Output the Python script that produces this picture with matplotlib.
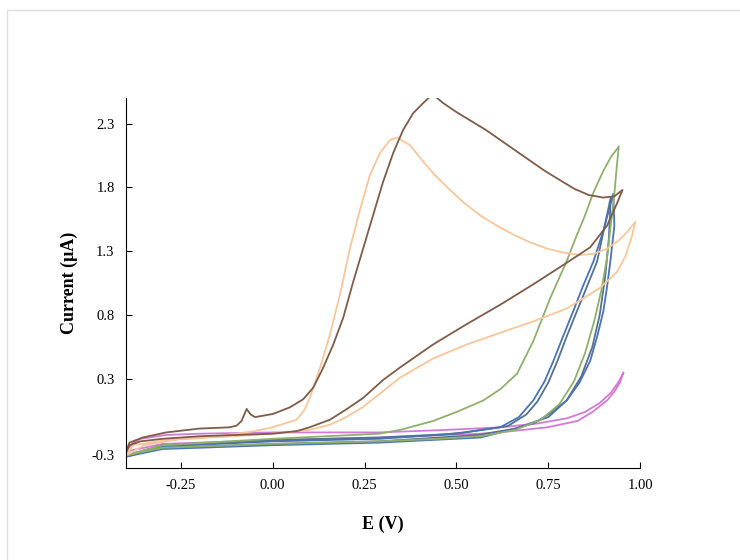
import matplotlib.pyplot as plt
from matplotlib.patches import Rectangle

plt.rcParams['font.family'] = ['Liberation Serif', 'DejaVu Serif']

# cyclic voltammograms, each a closed loop (potential V, current uA)
brown_x = [-0.40, -0.39, -0.354, -0.29, -0.20, -0.117, -0.098, -0.085, -0.071, -0.06, -0.048,
           0.001, 0.047, 0.083, 0.11, 0.137, 0.165, 0.192, 0.219, 0.246, 0.273, 0.30, 0.328,
           0.355, 0.382, 0.406, 0.435, 0.464, 0.50, 0.54, 0.58, 0.62, 0.66, 0.70, 0.74,
           0.78, 0.82, 0.86, 0.90, 0.93, 0.952,
           0.938, 0.91, 0.864, 0.79, 0.709, 0.619, 0.529, 0.437, 0.347, 0.30, 0.246, 0.20,
           0.156, 0.10, 0.065, 0.0, -0.10, -0.20, -0.30, -0.36, -0.39, -0.40]
brown_y = [-0.28, -0.20, -0.16, -0.12, -0.09, -0.08, -0.066, -0.03, 0.064, 0.02, 0.0,
           0.025, 0.077, 0.14, 0.23, 0.385, 0.57, 0.78, 1.06, 1.32, 1.58, 1.84, 2.07,
           2.25, 2.38, 2.45, 2.53, 2.46, 2.39, 2.32, 2.25, 2.17, 2.09, 2.01, 1.93,
           1.86, 1.79, 1.74, 1.72, 1.73, 1.78,
           1.68, 1.50, 1.33, 1.19, 1.04, 0.88, 0.73, 0.57, 0.39, 0.29, 0.15, 0.06,
           -0.02, -0.08, -0.11, -0.13, -0.14, -0.15, -0.17, -0.19, -0.22, -0.28]

peach_x = [-0.40, -0.35, -0.25, -0.15, -0.05, 0.0, 0.065, 0.085, 0.101, 0.129, 0.156, 0.183,
           0.21, 0.238, 0.265, 0.292, 0.319, 0.338, 0.374, 0.41, 0.44, 0.475, 0.52,
           0.565, 0.61, 0.655, 0.70, 0.747, 0.79, 0.837, 0.875, 0.91, 0.94, 0.965, 0.987,
           0.976, 0.96, 0.938, 0.89, 0.80, 0.709, 0.619, 0.529, 0.437, 0.347, 0.29, 0.246,
           0.20, 0.156, 0.10, 0.0, -0.11, -0.29, -0.38, -0.40]
peach_y = [-0.30, -0.22, -0.17, -0.15, -0.11, -0.08, -0.02, 0.05, 0.15, 0.39, 0.65, 0.96,
           1.32, 1.63, 1.90, 2.07, 2.17, 2.19, 2.13, 2.00, 1.90, 1.80, 1.68,
           1.58, 1.50, 1.43, 1.37, 1.32, 1.29, 1.27, 1.28, 1.32, 1.38, 1.45, 1.53,
           1.40, 1.26, 1.14, 1.01, 0.85, 0.75, 0.66, 0.57, 0.46, 0.31, 0.18, 0.08,
           0.0, -0.06, -0.10, -0.13, -0.15, -0.18, -0.22, -0.30]

green_x = [-0.40, -0.30, 0.0, 0.29, 0.347, 0.437, 0.50, 0.573, 0.62, 0.665, 0.71, 0.755,
           0.80, 0.82, 0.85, 0.873, 0.90, 0.919, 0.942,
           0.936, 0.93, 0.92, 0.91, 0.895, 0.875, 0.85, 0.82, 0.78, 0.73, 0.66, 0.565, 0.45,
           0.29, 0.0, -0.30, -0.40]
green_y = [-0.30, -0.22, -0.17, -0.13, -0.10, -0.03, 0.04, 0.13, 0.22, 0.34, 0.60, 0.93,
           1.22, 1.37, 1.58, 1.76, 1.93, 2.03, 2.12,
           1.95, 1.75, 1.50, 1.25, 1.00, 0.75, 0.50, 0.28, 0.10, -0.02, -0.10, -0.15, -0.17,
           -0.19, -0.21, -0.24, -0.30]

blue_x = [-0.40, -0.30, 0.0, 0.29, 0.45, 0.52, 0.619, 0.67, 0.709, 0.74, 0.764, 0.79, 0.818,
          0.845, 0.873, 0.90, 0.927,
          0.93, 0.919, 0.91, 0.90, 0.883, 0.864, 0.835, 0.80, 0.75, 0.71, 0.62, 0.565, 0.29,
          0.0, -0.30, -0.40]
blue_y = [-0.31, -0.23, -0.19, -0.17, -0.14, -0.12, -0.08, 0.0, 0.13, 0.28, 0.44, 0.63, 0.83,
          1.03, 1.22, 1.46, 1.75,
          1.50, 1.22, 1.02, 0.83, 0.63, 0.44, 0.27, 0.13, 0.02, -0.05, -0.12, -0.16, -0.20,
          -0.22, -0.25, -0.31]

slate_x = [-0.40, -0.30, 0.0, 0.29, 0.50, 0.64, 0.69, 0.72, 0.75, 0.775, 0.80, 0.828, 0.855,
           0.883, 0.90, 0.92,
           0.915, 0.905, 0.89, 0.87, 0.84, 0.80, 0.75, 0.66, 0.56, 0.29, 0.0, -0.30, -0.40]
slate_y = [-0.30, -0.22, -0.18, -0.16, -0.13, -0.07, 0.02, 0.12, 0.27, 0.44, 0.63, 0.83, 1.02,
           1.22, 1.45, 1.72,
           1.40, 1.10, 0.80, 0.55, 0.32, 0.13, 0.0, -0.09, -0.14, -0.19, -0.21, -0.24, -0.30]

pink_x = [-0.40, -0.38, -0.36, -0.29, -0.20, 0.0, 0.29, 0.475, 0.62, 0.72, 0.80, 0.85, 0.89,
          0.92, 0.94, 0.955,
          0.945, 0.93, 0.91, 0.87, 0.83, 0.747, 0.65, 0.565, 0.29, 0.0, -0.30, -0.40]
pink_y = [-0.27, -0.20, -0.17, -0.14, -0.13, -0.12, -0.12, -0.10, -0.08, -0.05, -0.01, 0.04, 0.11,
          0.19, 0.27, 0.35,
          0.27, 0.20, 0.13, 0.04, -0.03, -0.08, -0.11, -0.13, -0.16, -0.18, -0.21, -0.27]

series = [
    (pink_x, pink_y, '#d37ad6'),
    (slate_x, slate_y, '#56708f'),
    (blue_x, blue_y, '#4a73b5'),
    (green_x, green_y, '#8fb06c'),
    (peach_x, peach_y, '#f7c69a'),
    (brown_x, brown_y, '#7e5c48'),
]

x_ticks = [-0.25, 0.0, 0.25, 0.5, 0.75, 1.0]
x_labels = ['-0.25', '0.00', '0.25', '0.50', '0.75', '1.00']
y_ticks = [-0.3, 0.3, 0.8, 1.3, 1.8, 2.3]
y_labels = ['-0.3', '0.3', '0.8', '1.3', '1.8', '2.3']

fig = plt.figure(figsize=(7.4, 5.6), dpi=100)
fig.patches.append(Rectangle((0.009, -0.01), 1.0, 0.993, transform=fig.transFigure,
                             fill=False, edgecolor='#dddddd', linewidth=1.0))
ax = fig.add_axes([0.170, 0.164, 0.695, 0.661])

for xs, ys, c in series:
    ax.plot(xs, ys, color=c, linewidth=1.3)

ax.set_xlim(-0.4, 1.0)
ax.set_ylim(-0.4, 2.5)
ax.set_xticks(x_ticks)
ax.set_xticklabels(x_labels)
ax.set_yticks(y_ticks)
ax.set_yticklabels(y_labels)
ax.tick_params(direction='in', length=4, labelsize=10.5, pad=8)
ax.spines['top'].set_visible(False)
ax.spines['right'].set_visible(False)
ax.set_xlabel('E (V)', fontsize=13, fontweight='bold', labelpad=17)
ax.set_ylabel('Current (μA)', fontsize=13, fontweight='bold', labelpad=10)

fig.savefig('out.png', dpi=100)
